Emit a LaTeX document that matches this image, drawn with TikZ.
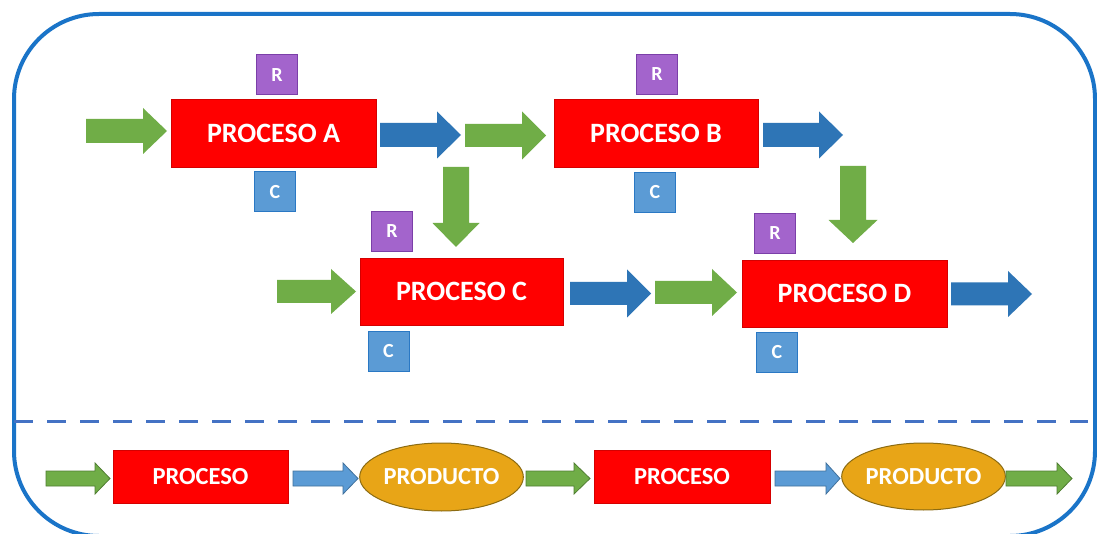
\documentclass[tikz,border=0pt]{standalone}
\usepackage{fontspec}
\setmainfont{Carlito}
\usetikzlibrary{shapes.geometric}
\definecolor{framec}{HTML}{1A74C8}
\definecolor{dashc}{HTML}{4472C4}
\definecolor{redf}{HTML}{FF0000}
\definecolor{redb}{HTML}{D40000}
\definecolor{purf}{HTML}{A364CC}
\definecolor{purb}{HTML}{7B3FA8}
\definecolor{cbf}{HTML}{5B9BD5}
\definecolor{cbb}{HTML}{2A78C4}
\definecolor{grn}{HTML}{70AD47}
\definecolor{grnb}{HTML}{507E32}
\definecolor{dblue}{HTML}{2E75B6}
\definecolor{lblue}{HTML}{5B9BD5}
\definecolor{lblueb}{HTML}{41719C}
\definecolor{orf}{HTML}{E8A517}
\definecolor{orb}{HTML}{8B6B12}
\tikzset{
  frame/.style={draw=framec, line width=4pt, rounded corners=85pt},
  dashline/.style={draw=dashc, line width=3pt, dash pattern=on 19pt off 14pt},
  bigproc/.style={rectangle, fill=redf, draw=redb, line width=0.8pt, inner sep=0pt,
    text=white, font=\fontsize{28}{30}\selectfont\bfseries},
  smallproc/.style={rectangle, fill=redf, draw=redb, line width=0.8pt, inner sep=0pt,
    text=white, font=\fontsize{24.5}{26}\selectfont\bfseries},
  rbox/.style={rectangle, fill=purf, draw=purb, line width=1pt, inner sep=0pt,
    minimum width=41pt, minimum height=40pt, text=white, font=\fontsize{20}{21}\selectfont\bfseries},
  cbox/.style={rectangle, fill=cbf, draw=cbb, line width=1pt, inner sep=0pt,
    minimum width=41pt, minimum height=40pt, text=white, font=\fontsize{20}{21}\selectfont\bfseries},
  prod/.style={ellipse, fill=orf, draw=orb, line width=1pt, inner sep=0pt,
    text=white, font=\fontsize{24.5}{26}\selectfont\bfseries},
  garrow/.style={fill=grn},
  barrow/.style={fill=dblue},
  gsarrow/.style={fill=grn, draw=grnb, line width=0.8pt},
  bsarrow/.style={fill=lblue, draw=lblueb, line width=0.8pt},
}
% horizontal block arrow: style, x1, x2, y, half shaft, half head, head length
\newcommand\hblk[7]{\path[#1] ({#2},{#4-#5}) -- ({#3-#7},{#4-#5}) -- ({#3-#7},{#4-#6}) -- ({#3},{#4}) -- ({#3-#7},{#4+#6}) -- ({#3-#7},{#4+#5}) -- ({#2},{#4+#5}) -- cycle;}
% vertical block arrow (downwards): style, x, y1, y2, half shaft, half head, head length
\newcommand\vblk[7]{\path[#1] ({#2-#5},{#3}) -- ({#2-#5},{#4-#7}) -- ({#2-#6},{#4-#7}) -- ({#2},{#4}) -- ({#2+#6},{#4-#7}) -- ({#2+#5},{#4-#7}) -- ({#2+#5},{#3}) -- cycle;}
\begin{document}
\begin{tikzpicture}[x=1pt,y=-1pt]
\useasboundingbox (0,0) rectangle (1097,534);
\fill[white] (0,0) rectangle (1097,534);
% frame and separator
\path[frame] (14,14) rectangle (1095,536);
\path[dashline] (14,421.5) -- (1088,421.5);
% upper processes
\node[bigproc, minimum width=205pt, minimum height=68pt] (A) at (273.5,133) {PROCESO A};
\node[bigproc, minimum width=204pt, minimum height=68pt] (B) at (656,133) {PROCESO B};
\node[bigproc, minimum width=203pt, minimum height=67pt] (C) at (461.5,291.5) {PROCESO C};
\node[bigproc, minimum width=205pt, minimum height=67pt] (D) at (844.5,293.5) {PROCESO D};
\node[rbox] (RA) at (277,75) {R};
\node[cbox] (CA) at (275,192) {C};
\node[rbox] (RB) at (657,74.5) {R};
\node[cbox] (CB) at (655,192.5) {C};
\node[rbox] (RC) at (392,231.5) {R};
\node[cbox] (CC) at (388.5,351.5) {C};
\node[rbox] (RD) at (775,233.5) {R};
\node[cbox] (CD) at (777,352.5) {C};
% upper arrows
\hblk{garrow}{86}{167}{131}{12}{23}{24}
\hblk{barrow}{380}{461}{135}{12}{23.5}{24}
\hblk{garrow}{465}{546}{135.5}{11.5}{24}{24}
\hblk{barrow}{763}{843}{135}{12}{23.5}{24}
\vblk{garrow}{456}{167}{247}{13}{23.5}{24}
\vblk{garrow}{853}{166}{243}{13}{24.5}{23}
\hblk{garrow}{277}{356}{291.5}{11.5}{22.5}{25}
\hblk{barrow}{570}{651}{293.5}{11.5}{24}{24}
\hblk{garrow}{655}{737}{292.5}{11.5}{23.5}{25}
\hblk{barrow}{951}{1032}{294}{11.5}{23}{24}
% lower legend row
\node[smallproc, minimum width=175pt, minimum height=53pt] (P1) at (200.5,476.5) {PROCESO};
\node[prod, minimum width=161pt, minimum height=68pt] (E1) at (441.5,477) {PRODUCTO};
\node[smallproc, minimum width=176pt, minimum height=53pt] (P2) at (682,476.5) {PROCESO};
\node[prod, minimum width=159pt, minimum height=67pt] (E2) at (923.5,476.5) {PRODUCTO};
\hblk{gsarrow}{46}{110}{478.5}{7.5}{15.5}{15}
\hblk{bsarrow}{293}{358}{478.5}{7.5}{15.5}{15}
\hblk{gsarrow}{526}{590}{478.5}{7.5}{15.5}{16}
\hblk{bsarrow}{775}{840}{478.5}{7.5}{15.5}{14}
\hblk{gsarrow}{1006}{1072}{478.5}{7.5}{15.5}{15}
\end{tikzpicture}
\end{document}
